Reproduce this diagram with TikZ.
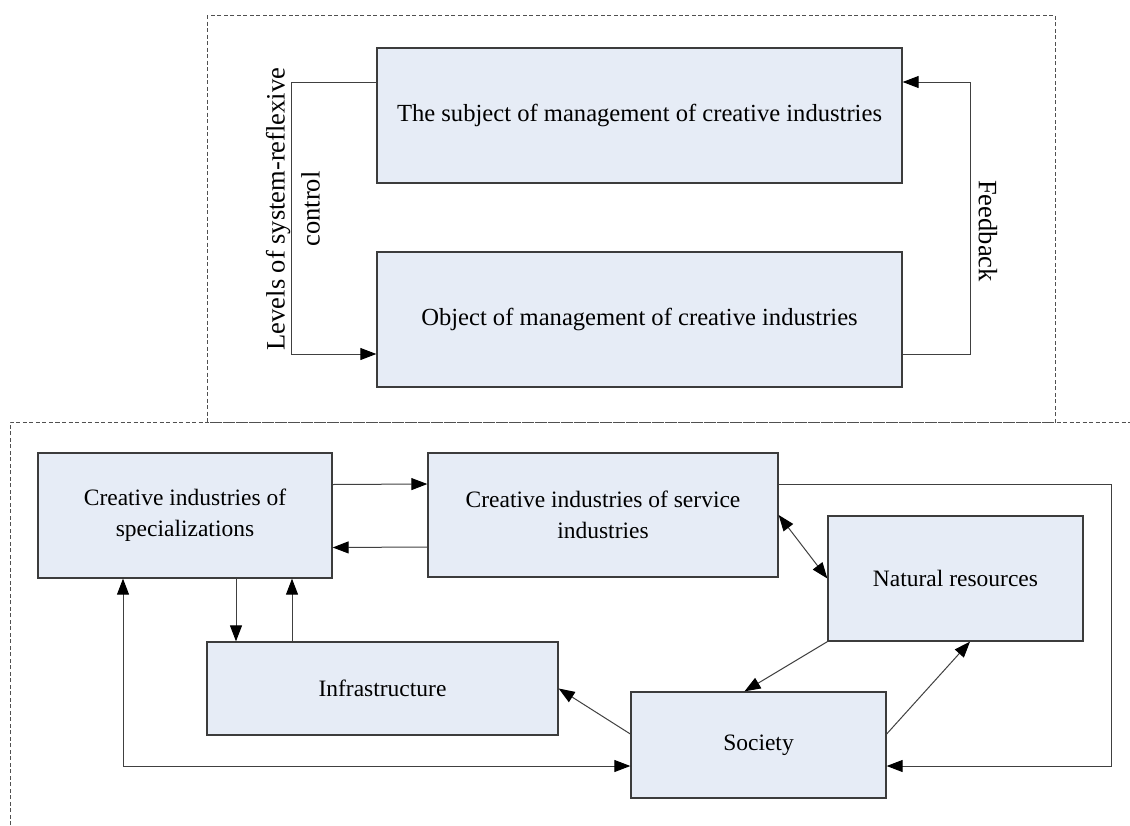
\documentclass[tikz,border=0pt]{standalone}
\usepackage{fontspec}
\setmainfont{Liberation Serif}
\usepackage{xcolor}
\usetikzlibrary{arrows.meta, positioning, calc}
\definecolor{boxfill}{RGB}{230,236,246}
\definecolor{boxline}{RGB}{60,60,60}
\definecolor{dashline}{RGB}{80,80,80}

\begin{document}
\begin{tikzpicture}[x=1pt, y=-1pt,
            block/.style={rectangle, draw=boxline, line width=1.3pt, fill=boxfill, inner sep=0pt, align=center, font=\fontsize{23.5}{31}\selectfont},
            arrow/.style={-{Triangle[length=16pt, width=12pt, black]}, line width=1pt, draw=black!75},
            biarrow/.style={{Triangle[length=16pt, width=12pt, black]}-{Triangle[length=16pt, width=12pt, black]}, line width=1pt, draw=black!75},
            zone/.style={dash pattern=on 4pt off 2.5pt, draw=dashline, line width=0.9pt},
            lbl/.style={font=\fontsize{26.5}{35}\selectfont, align=center, inner sep=0pt}
        ]
\useasboundingbox (0,0) rectangle (1130,825);

% Dashed zones
            \draw[zone] (207,15) rectangle (1055,422);
            \draw[zone] (10,825) -- (10,422) -- (1130,422);

% Management level
            \node[block, font=\fontsize{24.6}{31}\selectfont, minimum width=525pt, minimum height=135pt] (subj) at (639.5,115.5) {The subject of management of creative industries};
            \node[block, font=\fontsize{24.6}{31}\selectfont, minimum width=525pt, minimum height=135pt] (obj) at (639.5,319.5) {Object of management of creative industries};

% Creative industries system
            \node[block, minimum width=294pt, minimum height=125pt] (spec) at (185,515.5) {Creative industries of\\specializations};
            \node[block, minimum width=350pt, minimum height=124pt] (serv) at (603,515) {Creative industries of service\\industries};
            \node[block, minimum width=255pt, minimum height=125pt] (nat) at (955.5,578.5) {Natural resources};
            \node[block, minimum width=351pt, minimum height=93pt] (infra) at (382.5,688.5) {Infrastructure};
            \node[block, minimum width=255pt, minimum height=106pt] (soc) at (758.5,745) {Society};

% Control and feedback loops
            \draw[arrow] ([yshift=33.5pt]subj.west) -- ++(-85,0) |- ([yshift=-34.5pt]obj.west);
            \draw[arrow] ([yshift=-34.5pt]obj.east) -- ++(68,0) |- ([yshift=33.5pt]subj.east);
            \node[lbl, rotate=90] (levels) at (293,209) {Levels of system-reflexive\\control};
            \node[lbl, rotate=-90] (feedback) at (988,231) {Feedback};

% Links between the industries
            \draw[arrow] ([yshift=31pt]spec.east) -- ([yshift=31pt]serv.west);
            \draw[arrow] ([yshift=-32pt]serv.west) -- ([yshift=-32pt]spec.east);
            \draw[arrow] ([xshift=51pt]spec.south) -- ([xshift=51pt]spec.south |- infra.north);
            \draw[arrow] ([xshift=107pt]spec.south |- infra.north) -- ([xshift=107pt]spec.south);
            \draw[biarrow] (serv.east) -- (nat.west);
            \draw[arrow] (nat.south west) -- ([xshift=-14pt]soc.north);
            \draw[arrow] ([yshift=11pt]soc.east) -- ([xshift=14.5pt]nat.south);
            \draw[arrow] ([yshift=11pt]soc.west) -- (infra.east);
            \draw[biarrow] ([xshift=-62pt]spec.south) |- ([yshift=-21pt]soc.west);
            \coordinate (rloop) at (1111,484);
            \draw[arrow] ([yshift=31pt]serv.east) -- (rloop) |- ([yshift=-21pt]soc.east);

        \end{tikzpicture}
\end{document}
